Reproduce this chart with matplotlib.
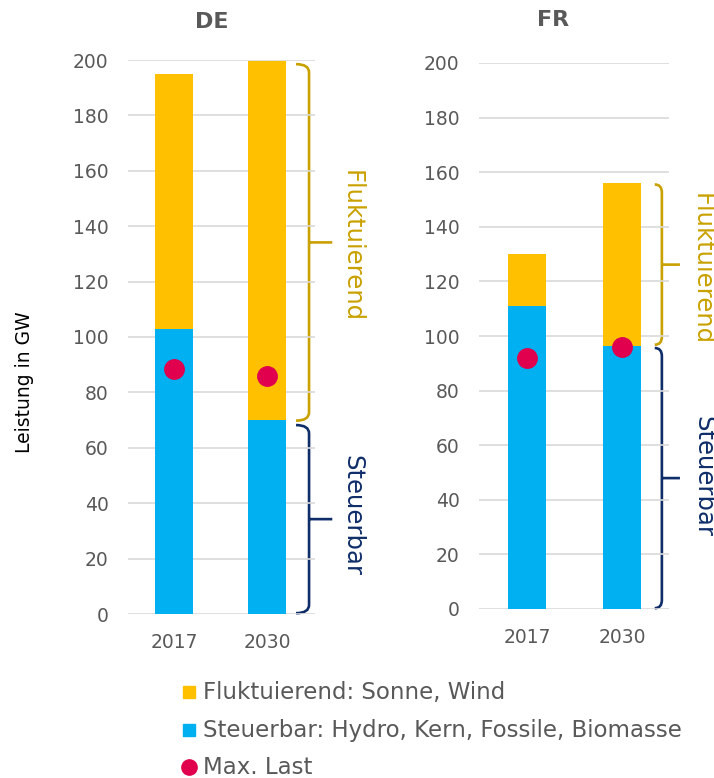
import matplotlib
matplotlib.use("Agg")
import matplotlib.pyplot as plt
from matplotlib.path import Path
from matplotlib.patches import PathPatch
from matplotlib.lines import Line2D

plt.rcParams['font.family'] = ['DejaVu Sans']

# data (GW)
jahre = ["2017", "2030"]
de_steuerbar = [103, 70]
de_fluktuierend = [92, 129.5]
de_maxlast = [88.5, 86]
fr_steuerbar = [111, 96.5]
fr_fluktuierend = [19, 59.5]
fr_maxlast = [92, 96]

gelb = '#FFC000'
blau = '#00B0F0'
rot = '#E0004D'
gold = '#C9A100'
navy = '#0F2D69'
grau = '#595959'


def klammer(ax, x, y0, y1, w, tip, color):
    r = 3.0
    ym = (y0 + y1) / 2
    verts = [(x - w, y1), (x, y1), (x, y1 - r), (x, y0 + r), (x, y0), (x - w, y0),
             (x, ym), (x + tip, ym)]
    codes = [Path.MOVETO, Path.CURVE3, Path.CURVE3, Path.LINETO, Path.CURVE3, Path.CURVE3,
             Path.MOVETO, Path.LINETO]
    ax.add_patch(PathPatch(Path(verts, codes), fill=False, edgecolor=color,
                           lw=1.9, clip_on=False, capstyle='butt'))


def panel(ax, steuer, fluk, last, xlim):
    x = range(len(jahre))
    ax.bar(x, steuer, width=0.4, color=blau, zorder=2)
    ax.bar(x, fluk, width=0.4, bottom=steuer, color=gelb, zorder=2)
    ax.plot(x, last, 'o', color=rot, markersize=14, zorder=3, linestyle='none')
    ax.set_ylim(0, 200)
    ax.set_xlim(*xlim)
    ax.set_yticks(range(0, 201, 20))
    ax.set_xticks(list(x))
    ax.set_xticklabels(jahre)
    ax.grid(axis='y', color='#D9D9D9', lw=1.2, zorder=0)
    for s in ax.spines.values():
        s.set_visible(False)
    ax.tick_params(length=0, labelsize=13.5, colors=grau, pad=14)
    ax.tick_params(axis='x', pad=14)


fig = plt.figure(figsize=(7.14, 7.78), dpi=100)
ax1 = fig.add_axes([128 / 714, 1 - 614 / 778, 187 / 714, 554 / 778])
ax2 = fig.add_axes([479 / 714, 1 - 609 / 778, 190 / 714, 546 / 778])

panel(ax1, de_steuerbar, de_fluktuierend, de_maxlast, (-0.495, 1.516))
panel(ax2, fr_steuerbar, fr_fluktuierend, fr_maxlast, (-0.505, 1.495))

# Klammern
klammer(ax1, 1.452, 69.8, 198.5, 0.14, 0.25, gold)
klammer(ax1, 1.452, 0.3, 68.2, 0.14, 0.25, navy)
klammer(ax2, 1.42, 96.8, 155.5, 0.075, 0.19, gold)
klammer(ax2, 1.42, 0.3, 95.6, 0.075, 0.19, navy)

fig.text(352 / 714, 1 - 246 / 778, "Fluktuierend", rotation=-90, ha='center', va='center',
         color=gold, fontsize=17.5)
fig.text(352 / 714, 1 - 515 / 778, "Steuerbar", rotation=-90, ha='center', va='center',
         color=navy, fontsize=17.5)
fig.text(702 / 714, 1 - 269 / 778, "Fluktuierend", rotation=-90, ha='center', va='center',
         color=gold, fontsize=17.5)
fig.text(703 / 714, 1 - 476 / 778, "Steuerbar", rotation=-90, ha='center', va='center',
         color=navy, fontsize=17.5)

fig.text(212 / 714, 1 - 22 / 778, "DE", ha='center', va='center', fontsize=16,
         fontweight='bold', color=grau)
fig.text(553 / 714, 1 - 20 / 778, "FR", ha='center', va='center', fontsize=16,
         fontweight='bold', color=grau)
fig.text(25 / 714, 1 - 382 / 778, "Leistung in GW", rotation=90, ha='center', va='center',
         fontsize=13.5, color='black')

# Legende
legende = [("s", gelb, 9, "Fluktuierend: Sonne, Wind"),
           ("s", blau, 9, "Steuerbar: Hydro, Kern, Fossile, Biomasse"),
           ("o", rot, 11, "Max. Last")]
zeilen_y = [692, 730, 767]
for (m, c, ms, txt), yy in zip(legende, zeilen_y):
    fig.add_artist(Line2D([189 / 714], [1 - yy / 778], marker=m, color=c, markersize=ms,
                          linestyle='none', transform=fig.transFigure))
    fig.text(203 / 714, 1 - yy / 778, txt, ha='left', va='center', fontsize=16.5, color=grau)

fig.savefig("out.png", dpi=100)
